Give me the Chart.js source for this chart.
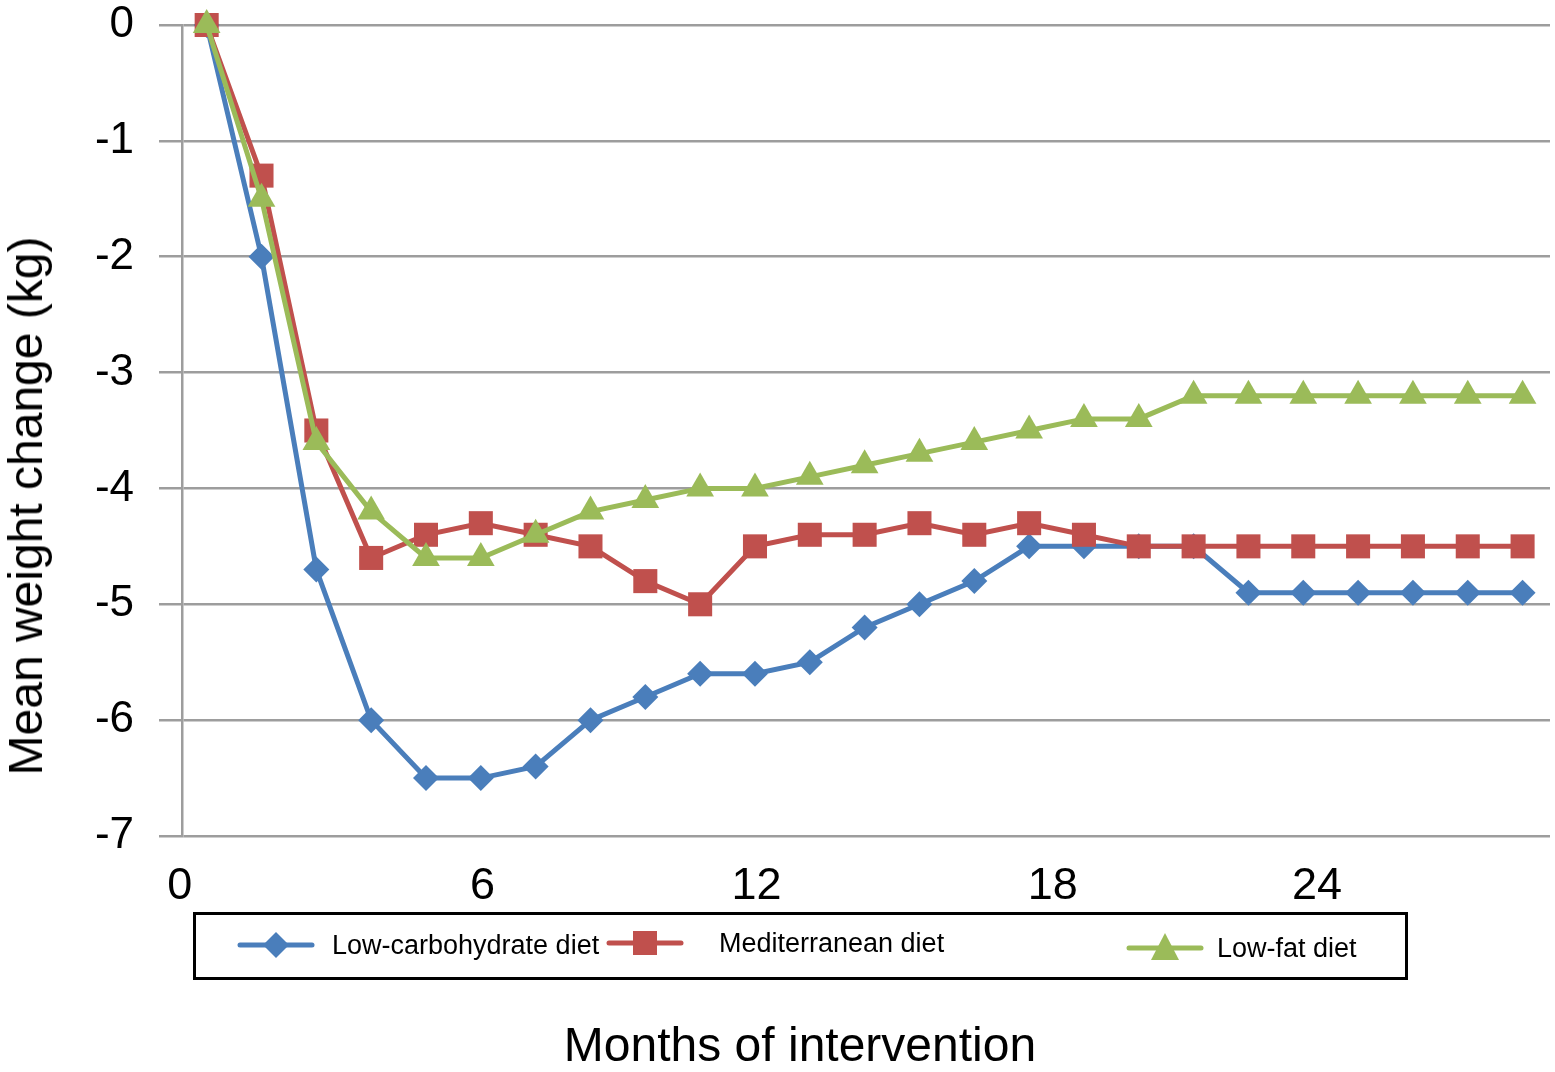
<!DOCTYPE html>
<html>
<head>
<meta charset="utf-8">
<title>Mean weight change by diet</title>
<script src="https://cdn.jsdelivr.net/npm/chart.js@4.4.1/dist/chart.umd.min.js"></script>
<style>
  html, body { margin: 0; padding: 0; background: #fff; }
  body {
    position: relative;
    width: 1555px;
    height: 1072px;
    overflow: hidden;
    font-family: "Liberation Sans", Arial, Helvetica, sans-serif;
    color: #000;
  }
  #chart { position: absolute; left: 0; top: 0; }
  .axis-title {
    position: absolute;
    font-size: 48px;
    line-height: 48px;
    white-space: nowrap;
  }
  #y-title { left: 26px; top: 506px; transform: translate(-50%, -50%) rotate(-90deg); }
  #x-title { left: 800px; top: 1021px; transform: translateX(-50%); }
  .legend-box {
    position: absolute;
    left: 193px;
    top: 912px;
    width: 1215px;
    height: 68px;
    border: 3px solid #000;
    box-sizing: border-box;
  }
  .legend-swatch { position: absolute; width: 78px; height: 32px; }
  .legend-text {
    position: absolute;
    font-size: 27px;
    line-height: 27px;
    white-space: nowrap;
  }
</style>
</head>
<body>
<canvas id="chart" width="1555" height="1072"></canvas>
<div class="axis-title" id="y-title">Mean weight change (kg)</div>
<div class="axis-title" id="x-title">Months of intervention</div>
<div class="legend-box"></div>
<div id="legend"></div>

<script>
// data, one point per month
const months = [0, 1, 2, 3, 4, 5, 6, 7, 8, 9, 10, 11, 12, 13, 14, 15, 16, 17, 18, 19, 20, 21, 22, 23, 24];
const lowCarb = [0, -2.0, -4.7, -6.0, -6.5, -6.5, -6.4, -6.0, -5.8, -5.6, -5.6, -5.5, -5.2, -5.0, -4.8, -4.5, -4.5, -4.5, -4.5, -4.9, -4.9, -4.9, -4.9, -4.9, -4.9];
const mediterranean = [0, -1.3, -3.5, -4.6, -4.4, -4.3, -4.4, -4.5, -4.8, -5.0, -4.5, -4.4, -4.4, -4.3, -4.4, -4.3, -4.4, -4.5, -4.5, -4.5, -4.5, -4.5, -4.5, -4.5, -4.5];
const lowFat = [0, -1.5, -3.6, -4.2, -4.6, -4.6, -4.4, -4.2, -4.1, -4.0, -4.0, -3.9, -3.8, -3.7, -3.6, -3.5, -3.4, -3.4, -3.2, -3.2, -3.2, -3.2, -3.2, -3.2, -3.2];

const seriesNames = ['Low-carbohydrate diet', 'Mediterranean diet', 'Low-fat diet'];

// x tick labels sit where the original figure put them
const xTickValues = [-0.49, 5.03, 10.03, 15.43, 20.25];
const xTickLabels = ['0', '6', '12', '18', '24'];
const yTickValues = [0, -1, -2, -3, -4, -5, -6, -7];
const yTickLabels = ['0', '-1', '-2', '-3', '-4', '-5', '-6', '-7'];

const FONT = '"Liberation Sans", Arial, Helvetica, sans-serif';
const GRID = '#9d9d9d';

const styles = [
  { color: '#4a7ebb', pointStyle: 'rectRot', radius: 13, order: 2 },
  { color: '#c0504d', pointStyle: 'rect', radius: 17, order: 1 },
  { color: '#9bbb59', pointStyle: 'triangle', radius: 16, order: 0 },
];

// legend entries are placed by hand like in the source figure
const legendLayout = [
  { swatchX: 237, textX: 332, cy: 945 },
  { swatchX: 606, textX: 719, cy: 943 },
  { swatchX: 1126, textX: 1217, cy: 948 },
];

function toPoints(values) {
  return months.map((m, i) => ({ x: m, y: values[i] }));
}

function markerSvg(style) {
  const cx = 39, cy = 16, c = style.color;
  let shape = '';
  if (style.pointStyle === 'rectRot') {
    shape = `<polygon points="${cx},${cy - 13} ${cx + 13},${cy} ${cx},${cy + 13} ${cx - 13},${cy}" fill="${c}"/>`;
  } else if (style.pointStyle === 'rect') {
    shape = `<rect x="${cx - 12}" y="${cy - 12}" width="24" height="24" fill="${c}"/>`;
  } else {
    shape = `<polygon points="${cx},${cy - 15} ${cx + 14},${cy + 12} ${cx - 14},${cy + 12}" fill="${c}"/>`;
  }
  return `
    <svg width="78" height="32" viewBox="0 0 78 32">
      <line x1="3" y1="${cy}" x2="75" y2="${cy}" stroke="${c}" stroke-width="5" stroke-linecap="round"/>
      ${shape}
    </svg>`;
}

function renderLegend() {
  const el = document.getElementById('legend');
  el.innerHTML = seriesNames.map((name, i) => {
    const pos = legendLayout[i];
    return `
      <div class="legend-swatch" style="left:${pos.swatchX}px; top:${pos.cy - 16}px">${markerSvg(styles[i])}</div>
      <div class="legend-text" style="left:${pos.textX}px; top:${pos.cy - 13.5}px">${name}</div>
    `;
  }).join('');
}

function renderChart() {
  const canvas = document.getElementById('chart');
  const seriesValues = [lowCarb, mediterranean, lowFat];

  new Chart(canvas, {
    type: 'line',
    data: {
      datasets: seriesValues.map((values, i) => ({
        label: seriesNames[i],
        data: toPoints(values),
        borderColor: styles[i].color,
        backgroundColor: styles[i].color,
        borderWidth: 5,
        tension: 0,
        pointStyle: styles[i].pointStyle,
        pointRadius: styles[i].radius,
        pointBackgroundColor: styles[i].color,
        pointBorderColor: styles[i].color,
        pointBorderWidth: 0,
        order: styles[i].order,
        clip: false,
      }))
    },
    options: {
      responsive: false,
      animation: false,
      events: [],
      // big markers would otherwise push the plot in from the right
      layout: { autoPadding: false, padding: { top: 25, right: 5, left: 0, bottom: 0 } },
      plugins: {
        legend: { display: false },
        tooltip: { enabled: false },
      },
      scales: {
        x: {
          type: 'linear',
          min: -0.45,
          max: 24.5,
          grid: { display: false, drawTicks: false },
          border: { display: false },
          afterBuildTicks: axis => { axis.ticks = xTickValues.map(v => ({ value: v })); },
          afterFit: axis => {
            axis.height = 1072 - 836;
            axis.paddingLeft = 0;
            axis.paddingRight = 0;
          },
          ticks: {
            autoSkip: false,
            maxRotation: 0,
            padding: 28,
            color: '#000',
            font: { family: FONT, size: 45, lineHeight: 1 },
            callback: (v, i) => xTickLabels[i],
          }
        },
        y: {
          min: -7,
          max: 0,
          afterBuildTicks: axis => { axis.ticks = yTickValues.map(v => ({ value: v })); },
          // fixed width, and no extra room for the end labels (they fit in the padding)
          afterFit: axis => {
            axis.width = 182;
            axis.paddingTop = 0;
            axis.paddingBottom = 0;
          },
          grid: { color: GRID, lineWidth: 2.5, drawTicks: true, tickLength: 23 },
          border: { display: true, color: GRID, width: 2.5 },
          ticks: {
            padding: 25,
            color: '#000',
            font: { family: FONT, size: 44, lineHeight: 1 },
            callback: (v, i) => yTickLabels[i],
          }
        }
      }
    }
  });
}

renderLegend();
renderChart();
</script>
</body>
</html>
